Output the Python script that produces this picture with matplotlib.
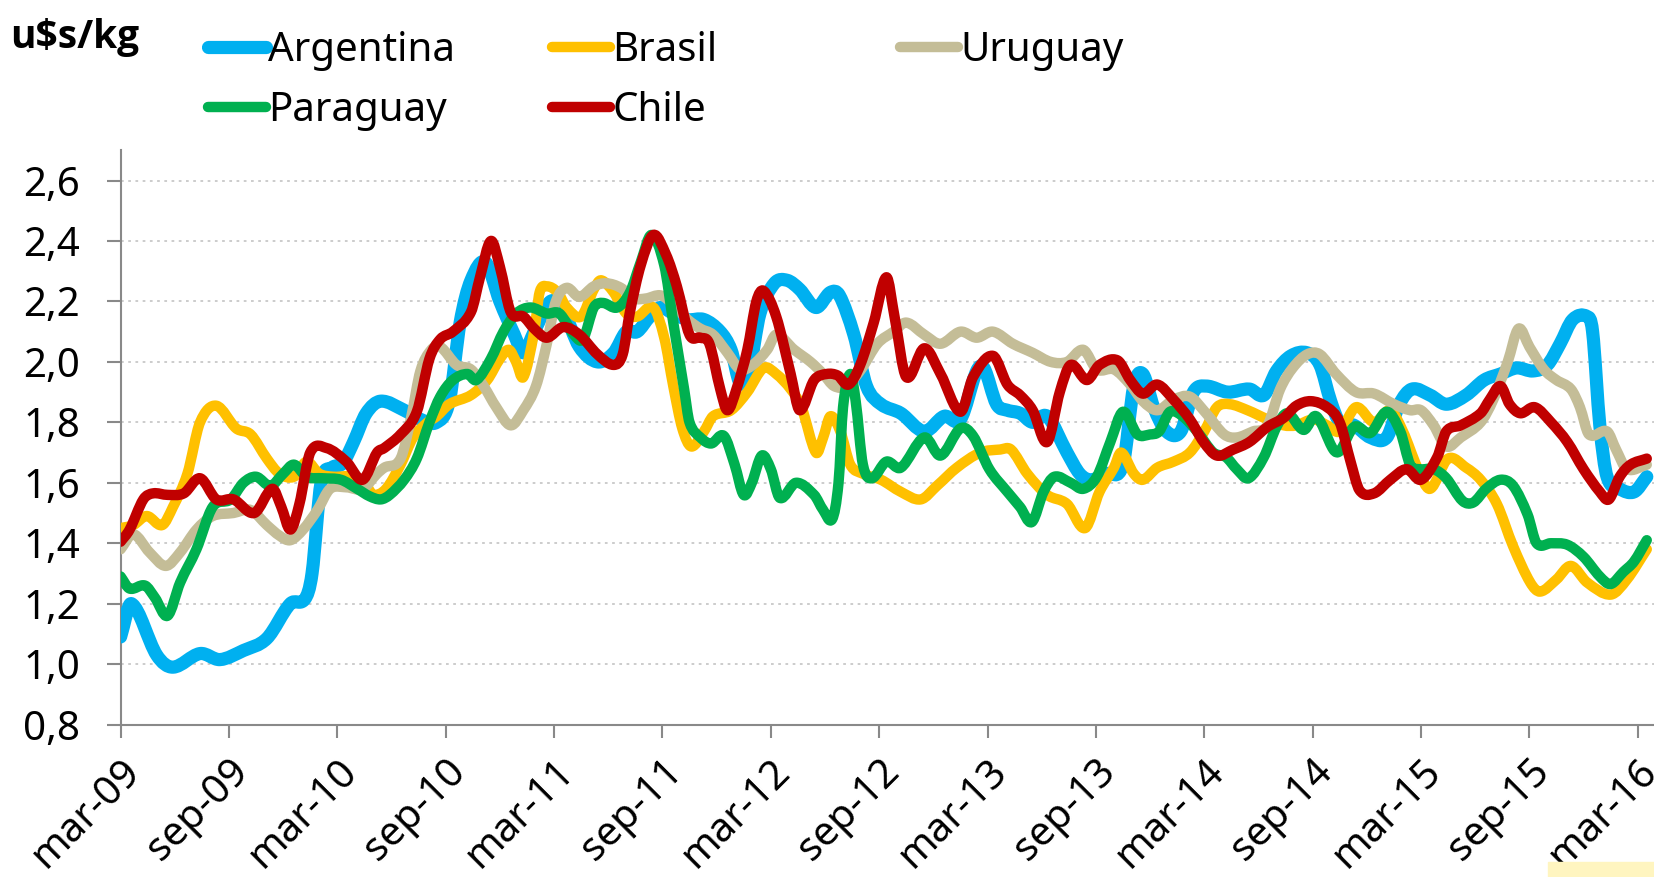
import numpy as np
import matplotlib.pyplot as plt
from matplotlib.path import Path
from matplotlib.patches import PathPatch, Rectangle
from matplotlib.lines import Line2D
from matplotlib.ticker import FuncFormatter

plt.rcParams['font.family'] = ['Noto Sans', 'DejaVu Sans']

# precio u$s/kg, x = meses contados desde mar-09
arg_mes = [0, 0.6, 2.0, 2.9, 4.4, 5.5, 6.8, 8.1, 9.4, 10.2, 10.6, 11.1, 11.7, 12.3, 12.9, 13.6, 14.4,
           15.7, 16.6, 17.5, 18.2, 18.8, 19.4, 20.2, 21.0, 21.8, 22.3, 22.9, 23.8, 24.5, 25.4, 26.4,
           27.3, 28.0, 28.6, 29.3, 29.9, 30.6, 31.4, 32.3, 33.2, 33.8, 34.3, 34.8, 35.4, 36.2, 36.9,
           37.6, 38.5, 39.3, 39.8, 40.6, 41.3, 42.1, 43.2, 44.5, 45.6, 46.5, 47.4, 47.8, 48.5, 49.1,
           49.8, 50.5, 51.3, 52.4, 53.1, 53.7, 54.6, 55.5, 56.1, 56.6, 57.2, 57.9, 58.7, 59.4, 60.1,
           61.3, 62.5, 63.3, 64.0, 64.8, 65.7, 66.4, 67.0, 67.5, 68.3, 69.2, 70.1, 70.8, 71.5, 72.5,
           73.4, 74.5, 75.5, 76.4, 77.3, 78.2, 79.0, 79.7, 80.4, 81.2, 81.5, 81.9, 82.3, 83.0, 83.8, 84.5]
arg_val = [1.09, 1.20, 1.03, 0.99, 1.035, 1.015, 1.045, 1.085, 1.20, 1.215, 1.30, 1.60, 1.65, 1.665, 1.735, 1.83, 1.87,
           1.84, 1.81, 1.80, 1.87, 2.13, 2.27, 2.33, 2.20, 2.09, 2.03, 2.10, 2.20, 2.17, 2.05, 2.00,
           2.03, 2.10, 2.10, 2.15, 2.18, 2.16, 2.14, 2.14, 2.10, 2.04, 1.93, 1.97, 2.16, 2.26, 2.27,
           2.24, 2.18, 2.23, 2.22, 2.09, 1.92, 1.86, 1.83, 1.77, 1.82, 1.81, 1.97, 1.98, 1.86, 1.84,
           1.83, 1.80, 1.82, 1.70, 1.63, 1.61, 1.63, 1.66, 1.92, 1.96, 1.85, 1.77, 1.77, 1.90, 1.92,
           1.90, 1.91, 1.89, 1.97, 2.02, 2.03, 1.99, 1.87, 1.80, 1.79, 1.75, 1.75, 1.86, 1.91, 1.89,
           1.86, 1.89, 1.94, 1.96, 1.98, 1.97, 1.99, 2.06, 2.14, 2.15, 2.10, 1.79, 1.62, 1.58, 1.57, 1.62]

bra_mes = [0, 0.7, 1.45, 2.3, 2.9, 3.7, 4.4, 5.3, 6.4, 7.2, 8.1, 8.8, 9.6, 10.3, 11.0, 11.8, 12.9, 13.6,
           14.0, 14.7, 15.5, 16.2, 17.0, 17.5, 18.2, 19.4, 20.3, 21.0, 21.5, 21.9, 22.3, 22.9, 23.2, 23.6,
           24.2, 24.7, 25.5, 26.2, 26.6, 27.3, 28.0, 28.6, 29.5, 30.1, 30.6, 31.1, 31.6, 32.3, 32.8, 33.8,
           34.7, 35.6, 36.3, 37.1, 37.7, 38.5, 38.9, 39.3, 39.85, 40.4, 41.1, 42.1, 43.2, 44.3, 45.2, 46.3,
           47.6, 48.7, 49.3, 50.2, 51.3, 52.4, 53.4, 54.2, 55.0, 55.4, 56.1, 56.6, 57.4, 58.3, 59.2, 60.0,
           60.7, 61.4, 62.4, 63.5, 64.4, 65.1, 66.05, 66.8, 67.5, 68.4, 69.4, 70.3, 71.0, 71.8, 72.5, 73.5,
           74.5, 75.3, 76.2, 77.1, 78.05, 78.6, 79.5, 80.3, 81.2, 82.5, 83.4, 84.5]
bra_val = [1.45, 1.46, 1.49, 1.46, 1.52, 1.63, 1.80, 1.855, 1.78, 1.76, 1.68, 1.63, 1.62, 1.67, 1.63, 1.62, 1.62, 1.59,
           1.56, 1.58, 1.66, 1.75, 1.80, 1.82, 1.86, 1.89, 1.94, 2.01, 2.04, 2.00, 1.95, 2.10, 2.23, 2.25,
           2.23, 2.18, 2.15, 2.24, 2.27, 2.23, 2.16, 2.15, 2.18, 2.08, 1.92, 1.78, 1.72, 1.77, 1.82, 1.84,
           1.90, 1.98, 1.96, 1.91, 1.85, 1.70, 1.75, 1.82, 1.77, 1.66, 1.63, 1.61, 1.57, 1.545, 1.59, 1.65,
           1.70, 1.71, 1.71, 1.63, 1.56, 1.53, 1.45, 1.57, 1.65, 1.70, 1.63, 1.61, 1.65, 1.67, 1.70, 1.77,
           1.85, 1.86, 1.84, 1.81, 1.79, 1.79, 1.81, 1.79, 1.77, 1.85, 1.80, 1.84, 1.77, 1.65, 1.58, 1.68,
           1.65, 1.61, 1.53, 1.39, 1.27, 1.24, 1.28, 1.325, 1.27, 1.23, 1.28, 1.38]

uru_mes = [0, 0.7, 1.6, 2.5, 3.3, 4.2, 5.1, 6.25, 7.2, 8.1, 8.8, 9.4, 10.1, 10.9, 11.6, 12.5, 13.4, 14.2,
           14.6, 15.5, 16.1, 16.6, 17.2, 17.7, 18.6, 19.4, 20.1, 20.8, 21.6, 22.3, 23.0, 23.6, 24.1, 24.7,
           25.4, 26.2, 26.9, 27.7, 28.4, 29.1, 29.9, 30.6, 31.4, 32.1, 32.8, 33.6, 34.3, 35.0, 35.8, 36.3,
           37.3, 38.2, 38.9, 39.5, 40.2, 41.0, 41.9, 42.8, 43.5, 44.5, 45.4, 46.5, 47.4, 48.3, 49.4, 50.5,
           51.5, 52.4, 53.3, 54.05, 55.0, 55.9, 56.6, 57.4, 58.3, 59.2, 60.1, 61.1, 61.8, 62.7, 63.5, 64.2,
           64.9, 65.7, 66.4, 67.3, 68.4, 69.4, 70.5, 71.4, 72.0, 72.7, 73.4, 74.2, 75.3, 76.0, 76.8, 77.4,
           78.0, 78.8, 79.5, 80.3, 80.8, 81.3, 82.3, 82.8, 83.4, 84.5]
uru_val = [1.38, 1.43, 1.37, 1.325, 1.37, 1.445, 1.49, 1.50, 1.51, 1.46, 1.425, 1.41, 1.445, 1.51, 1.58, 1.585, 1.58, 1.63,
           1.65, 1.68, 1.82, 1.97, 2.04, 2.05, 1.99, 1.975, 1.92, 1.85, 1.79, 1.84, 1.92, 2.06, 2.20, 2.245,
           2.215, 2.25, 2.26, 2.245, 2.21, 2.21, 2.22, 2.19, 2.14, 2.11, 2.09, 2.03, 1.975, 1.99, 2.04, 2.09,
           2.04, 2.00, 1.96, 1.92, 1.92, 1.975, 2.06, 2.10, 2.13, 2.09, 2.06, 2.10, 2.08, 2.10, 2.06, 2.03,
           2.00, 2.00, 2.04, 1.975, 1.975, 1.925, 1.87, 1.84, 1.875, 1.885, 1.83, 1.76, 1.75, 1.77, 1.79, 1.91,
           1.98, 2.025, 2.025, 1.96, 1.90, 1.895, 1.86, 1.84, 1.84, 1.79, 1.72, 1.75, 1.80, 1.875, 2.00, 2.11,
           2.05, 1.975, 1.94, 1.91, 1.85, 1.76, 1.77, 1.71, 1.645, 1.66]

par_mes = [0, 0.5, 1.35, 1.9, 2.6, 3.3, 4.2, 5.1, 6.1, 6.8, 7.5, 8.3, 9.0, 9.6, 10.3, 11.2, 12.2, 13.1,
           13.8, 14.4, 14.9, 15.7, 16.4, 17.1, 17.7, 18.4, 19.2, 19.7, 20.5, 21.2, 21.9, 22.7, 23.6, 24.3,
           25.1, 25.6, 26.2, 26.7, 27.5, 28.2, 28.8, 29.4, 30.1, 30.6, 31.2, 31.5, 32.1, 32.7, 33.4, 34.0,
           34.5, 34.95, 35.5, 36.0, 36.5, 37.4, 38.4, 38.9, 39.4, 39.75, 40.0, 40.4, 40.7, 41.1, 41.6, 42.4,
           43.2, 44.5, 45.4, 46.5, 47.2, 48.1, 49.1, 49.8, 50.45, 51.1, 51.7, 52.6, 53.3, 54.05, 54.8, 55.5,
           56.3, 57.0, 57.5, 58.1, 58.8, 59.6, 60.5, 61.2, 61.8, 62.45, 63.3, 64.0, 64.6, 65.5, 66.2, 67.15,
           67.5, 68.3, 69.2, 70.1, 70.85, 71.4, 71.95, 72.7, 73.4, 74.3, 74.9, 75.6, 76.4, 77.1, 77.9, 78.4,
           79.2, 80.1, 81.0, 81.9, 82.5, 83.2, 83.8, 84.5]
par_val = [1.29, 1.25, 1.26, 1.22, 1.16, 1.27, 1.38, 1.52, 1.545, 1.60, 1.62, 1.59, 1.63, 1.66, 1.62, 1.615, 1.61, 1.58,
           1.555, 1.545, 1.56, 1.61, 1.68, 1.80, 1.885, 1.94, 1.96, 1.94, 2.01, 2.10, 2.16, 2.18, 2.16, 2.16,
           2.09, 2.075, 2.18, 2.195, 2.18, 2.23, 2.33, 2.42, 2.32, 2.13, 1.91, 1.80, 1.75, 1.73, 1.755, 1.66,
           1.56, 1.60, 1.69, 1.645, 1.55, 1.60, 1.56, 1.51, 1.48, 1.60, 1.85, 1.96, 1.87, 1.66, 1.615, 1.67,
           1.65, 1.75, 1.69, 1.78, 1.755, 1.645, 1.57, 1.52, 1.47, 1.57, 1.62, 1.60, 1.58, 1.62, 1.735, 1.835,
           1.76, 1.76, 1.77, 1.835, 1.82, 1.77, 1.70, 1.685, 1.645, 1.615, 1.685, 1.785, 1.83, 1.775, 1.82, 1.71,
           1.705, 1.785, 1.765, 1.835, 1.77, 1.66, 1.645, 1.645, 1.615, 1.54, 1.535, 1.58, 1.61, 1.59, 1.495, 1.40,
           1.40, 1.395, 1.355, 1.29, 1.265, 1.305, 1.34, 1.41]

chi_mes = [0, 0.5, 1.26, 1.8, 2.6, 3.5, 4.4, 5.3, 6.25, 7.4, 8.4, 8.9, 9.4, 9.9, 10.5, 11.4, 12.5, 13.4,
           14.2, 14.6, 15.5, 16.4, 17.1, 17.7, 18.4, 19.4, 19.9, 20.5, 21.0, 21.6, 22.3, 22.9, 23.6, 24.5,
           25.4, 26.4, 27.3, 27.8, 28.2, 28.8, 29.5, 30.2, 30.8, 31.5, 32.1, 32.6, 33.2, 33.6, 34.1, 34.7,
           35.2, 35.6, 36.3, 37.1, 37.6, 38.4, 39.1, 39.7, 40.3, 40.95, 41.7, 42.4, 42.85, 43.5, 44.5, 45.4,
           46.5, 47.2, 48.3, 49.1, 49.8, 50.5, 51.3, 52.0, 52.6, 53.5, 54.2, 55.2, 55.9, 56.6, 57.4, 58.3,
           59.2, 59.96, 60.7, 61.6, 62.5, 63.5, 64.4, 65.1, 65.9, 66.8, 67.5, 68.1, 68.6, 69.4, 70.3, 71.2,
           72.0, 72.9, 73.4, 74.2, 75.3, 75.8, 76.4, 76.9, 77.5, 78.3, 79.2, 80.1, 81.0, 81.9, 82.4, 83.0,
           83.6, 84.5]
chi_val = [1.405, 1.445, 1.545, 1.565, 1.56, 1.565, 1.615, 1.545, 1.545, 1.50, 1.58, 1.52, 1.445, 1.53, 1.70, 1.715, 1.67, 1.61,
           1.70, 1.715, 1.76, 1.835, 2.01, 2.075, 2.10, 2.165, 2.28, 2.40, 2.315, 2.165, 2.15, 2.11, 2.08, 2.115,
           2.09, 2.025, 1.99, 2.025, 2.165, 2.32, 2.42, 2.355, 2.25, 2.09, 2.08, 2.06, 1.91, 1.84, 1.91, 2.04,
           2.20, 2.235, 2.15, 1.96, 1.84, 1.94, 1.96, 1.955, 1.925, 1.99, 2.13, 2.28, 2.15, 1.95, 2.045, 1.96,
           1.835, 1.95, 2.02, 1.925, 1.89, 1.84, 1.735, 1.90, 1.99, 1.94, 1.99, 2.005, 1.94, 1.895, 1.925, 1.875,
           1.81, 1.735, 1.69, 1.71, 1.735, 1.785, 1.815, 1.855, 1.87, 1.85, 1.80, 1.67, 1.575, 1.565, 1.61, 1.645,
           1.61, 1.685, 1.77, 1.79, 1.83, 1.875, 1.92, 1.86, 1.83, 1.85, 1.80, 1.735, 1.645, 1.57, 1.545, 1.62,
           1.66, 1.68]

paises = ['Argentina', 'Brasil', 'Uruguay', 'Paraguay', 'Chile']
colores = ['#00B0F0', '#FFC000', '#C4BD97', '#00B050', '#C00000']
tick_meses = list(range(0, 85, 6))
tick_labels = ['mar-09', 'sep-09', 'mar-10', 'sep-10', 'mar-11', 'sep-11', 'mar-12', 'sep-12',
               'mar-13', 'sep-13', 'mar-14', 'sep-14', 'mar-15', 'sep-15', 'mar-16']


def smooth_path(t, v):
    # smoothed line like excel: cubic bezier through every point
    t = np.asarray(t, float)
    v = np.asarray(v, float)
    s = np.empty_like(v)
    s[1:-1] = (v[2:] - v[:-2]) / (t[2:] - t[:-2])
    s[0] = (v[1] - v[0]) / (t[1] - t[0])
    s[-1] = (v[-1] - v[-2]) / (t[-1] - t[-2])
    verts = [(t[0], v[0])]
    codes = [Path.MOVETO]
    for i in range(len(t) - 1):
        h = (t[i + 1] - t[i]) / 3
        verts += [(t[i] + h, v[i] + s[i] * h), (t[i + 1] - h, v[i + 1] - s[i + 1] * h), (t[i + 1], v[i + 1])]
        codes += [Path.CURVE4] * 3
    return Path(verts, codes)


fig = plt.figure(figsize=(16.54, 8.77), dpi=100)
ax = fig.add_axes([0.0729, 0.1738, 0.9271, 0.6548])

series = [(arg_mes, arg_val), (bra_mes, bra_val), (uru_mes, uru_val), (par_mes, par_val), (chi_mes, chi_val)]
anchos = [9.5, 7.5, 7.5, 7.5, 7.5]
for k, (t, v) in enumerate(series):
    ax.add_patch(PathPatch(smooth_path(t, v), fill=False, edgecolor=colores[k], lw=anchos[k],
                           capstyle='round', joinstyle='round', zorder=3 + k))

ax.set_xlim(0, 84.9)
ax.set_ylim(0.8, 2.7)
ax.set_yticks(np.arange(0.8, 2.61, 0.2))
ax.yaxis.set_major_formatter(FuncFormatter(lambda y, p: f'{y:.1f}'.replace('.', ',')))
ax.set_xticks(tick_meses)
ax.set_xticklabels(tick_labels, rotation=45, ha='right', rotation_mode='anchor', fontsize=29)
ax.tick_params(axis='y', labelsize=29, length=10, width=1.5, color='#898989', pad=19)
ax.tick_params(axis='x', length=9.5, width=1.5, color='#898989', pad=10)
ax.grid(axis='y', color='#C8C8C8', linestyle=(0, (1.5, 2.5)), lw=1.3)
ax.set_axisbelow(True)
for side in ['top', 'right']:
    ax.spines[side].set_visible(False)
for side in ['left', 'bottom']:
    ax.spines[side].set_color('#898989')
    ax.spines[side].set_linewidth(1.5)

fig.text(0.0064, 0.9458, 'u$s/kg', fontsize=28, fontweight='bold', va='baseline',
         family=['Open Sans', 'DejaVu Sans'])

handles = [Line2D([], [], color=colores[k], lw=anchos[k], solid_capstyle='round') for k in range(5)]
columnas = [([0, 3], 0.1258), ([1, 4], 0.3337), ([2], 0.5441)]
for idx, x0 in columnas:
    fig.legend([handles[i] for i in idx], [paises[i] for i in idx], loc='upper left',
               bbox_to_anchor=(x0, 0.965), frameon=False, fontsize=29, borderpad=0,
               borderaxespad=0, handlelength=1.45, handletextpad=0.05, labelspacing=0.5)

fig.patches.append(Rectangle((0.936, 0), 0.064, 0.017, transform=fig.transFigure,
                             color='#FFF5C0', zorder=0))

fig.savefig('out.png', dpi=100)
